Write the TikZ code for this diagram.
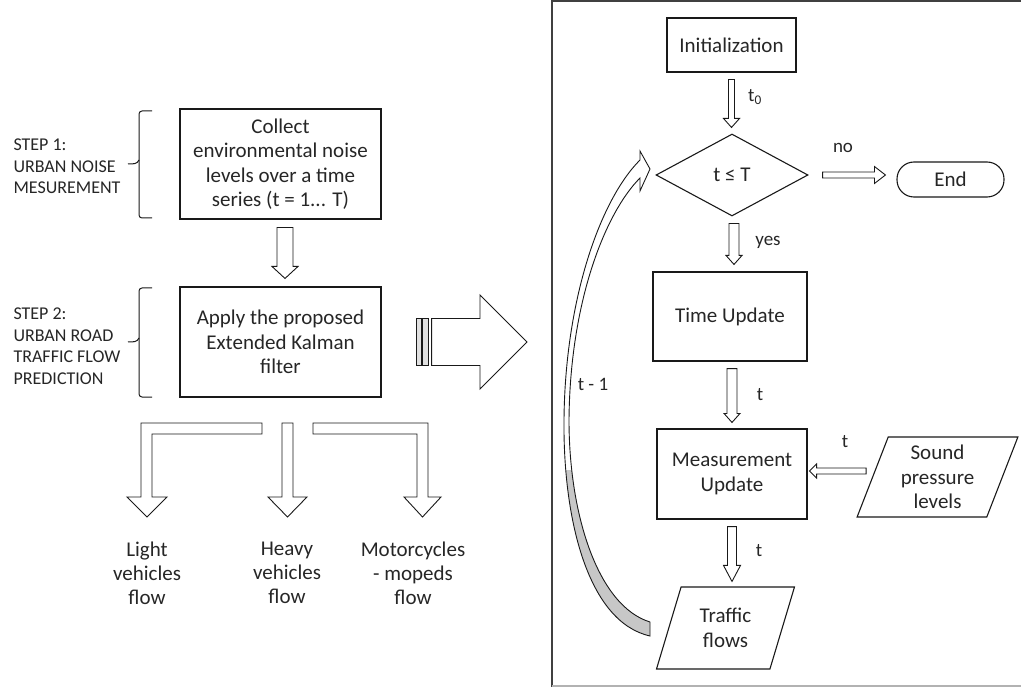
\documentclass[tikz,border=0pt]{standalone}
\usepackage{fontspec}
\setmainfont{Carlito}
\usetikzlibrary{shapes.geometric,calc}

% block arrows between two points (tail, tip, shaft half-width, head half-width, head length)
\newcommand\blkdown[5]{\draw[blk] let \p1=(#1), \p2=(#2) in
  (\x1-#3,\y1) -- (\x1+#3,\y1) -- (\x1+#3,\y2+#5) -- (\x1+#4,\y2+#5) -- (\x1,\y2)
  -- (\x1-#4,\y2+#5) -- (\x1-#3,\y2+#5) -- cycle;}
\newcommand\blkright[5]{\draw[blk] let \p1=(#1), \p2=(#2) in
  (\x1,\y1+#3) -- (\x2-#5,\y1+#3) -- (\x2-#5,\y1+#4) -- (\x2,\y1) -- (\x2-#5,\y1-#4)
  -- (\x2-#5,\y1-#3) -- (\x1,\y1-#3) -- cycle;}
\newcommand\blkleft[5]{\draw[blk] let \p1=(#1), \p2=(#2) in
  (\x1,\y1+#3) -- (\x2+#5,\y1+#3) -- (\x2+#5,\y1+#4) -- (\x2,\y1) -- (\x2+#5,\y1-#4)
  -- (\x2+#5,\y1-#3) -- (\x1,\y1-#3) -- cycle;}

\begin{document}
\begin{tikzpicture}[x=1pt,y=-1pt,
  every node/.style={text=black!85},
  txt/.style={font=\fontsize{21}{24.5}\selectfont},
  box/.style={draw=black!90, line width=1.1pt, inner sep=0pt, align=center, txt},
  para/.style={box, trapezium, trapezium left angle=70, trapezium right angle=110,
    trapezium stretches=true},
  steplbl/.style={anchor=west, align=left, font=\fontsize{18}{21.5}\selectfont},
  outlbl/.style={align=center, font=\fontsize{21}{24}\selectfont},
  lbl/.style={font=\fontsize{19}{22}\selectfont},
  blk/.style={draw=black!90, line width=0.9pt, fill=white, line join=miter},
  brace/.style={draw=black!90, line width=1pt, rounded corners=3pt},
]
\useasboundingbox (0,0) rectangle (1021,687);

% ---------- left part: the two steps ----------
\node[box, minimum width=201, minimum height=110] (collect) at (280.5,164)
  {Collect\\environmental noise\\levels over a time\\series (t = 1... T)};
\node[box, minimum width=201, minimum height=110] (apply) at (280.5,342)
  {Apply the proposed\\Extended Kalman\\filter};

\node[steplbl] (step1) at (10,166.5) {STEP 1:\\URBAN NOISE\\MESUREMENT};
\node[steplbl] (step2) at (10,346) {STEP 2:\\URBAN ROAD\\TRAFFIC FLOW\\PREDICTION};

% brackets
\draw[brace] (152,111) -- (139,111) -- (139,218) -- (152,218);
\draw[draw=black!90, line width=1pt] (139,160) .. controls (137,164) and (134,164) .. (128,164);
\draw[brace] (152,288) -- (139,288) -- (139,397) -- (152,397);
\draw[draw=black!90, line width=1pt] (139,338) .. controls (137,342) and (134,342) .. (128,342);

\blkdown{[xshift=4.5pt,yshift=-8pt]collect.south}{[yshift=8pt]apply.north}{8pt}{13pt}{12pt}

% three output flows
\node[outlbl] (light) at (147,573) {Light\\vehicles\\flow};
\node[outlbl] (heavy) at (287,573) {Heavy\\vehicles\\flow};
\node[outlbl] (moto) at (413,573) {Motorcycles\\- mopeds\\flow};

\draw[blk] (262,423) -- (141,423) -- (141,497) -- (127,497) -- (147,517) -- (167,497)
  -- (152,497) -- (152,434) -- (262,434) -- cycle;
\draw[blk] (282,423) -- (293,423) -- (293,497) -- (307,497) -- (287.5,517) -- (268,497)
  -- (282,497) -- cycle;
\draw[blk] (313,423) -- (428,423) -- (428,497) -- (441,497) -- (422.5,517) -- (404,497)
  -- (417,497) -- (417,434) -- (313,434) -- cycle;

% ---------- right part: the filter loop ----------
\draw[black!75, line width=2pt] (552,687) -- (552,1) -- (1021,1);
\draw[black!30, line width=1.5pt] (552,686) -- (1021,686);
\coordinate (frameW) at (552,343);

% striped arrow into the loop
\blkright{[xshift=50pt]apply.east}{[xshift=-25pt]frameW}{23.5pt}{47pt}{47pt}
\draw[blk, fill=black!12] let \p1=([xshift=50pt]apply.east) in
  (\x1-15pt,\y1-23.5pt) rectangle (\x1-10pt,\y1+23.5pt)
  (\x1-9pt,\y1-23.5pt) rectangle (\x1-3pt,\y1+23.5pt);

\node[box, minimum width=129, minimum height=54] (init) at (731.5,45) {Initialization};
\node[box, diamond, minimum width=152, minimum height=82] (dec) at (732,175) {t ≤ T};
\node[box, rounded corners=17pt, minimum width=107, minimum height=35] (end) at (950.5,179.5) {End};
\node[box, minimum width=154, minimum height=89] (time) at (730,316.5) {Time Update};
\node[box, minimum width=150, minimum height=90] (meas) at (732,474) {Measurement\\Update};
\node[para, minimum width=139, minimum height=82] (flows) at (725.5,628) {Traffic\\flows};
\node[para, minimum width=161, minimum height=80] (sound) at (937.5,477) {Sound\\pressure\\levels};

\blkdown{[yshift=-7pt]init.south}{[yshift=6pt]dec.north}{3pt}{8pt}{9pt}
\blkdown{[xshift=2pt,yshift=-7pt]dec.south}{[yshift=7pt]time.north}{5pt}{8pt}{9pt}
\blkdown{[xshift=2pt,yshift=-7pt]time.south}{[yshift=6pt]meas.north}{5pt}{8pt}{9pt}
\blkdown{[yshift=-7pt]meas.south}{[yshift=5pt]flows.north}{4.5pt}{8.5pt}{16pt}
\blkright{[xshift=14pt]dec.east}{[xshift=-11pt]end.west}{3pt}{8.5pt}{11pt}
\blkleft{[shift={(-6pt,6pt)}]sound.west}{[xshift=2pt]meas.east}{3pt}{7pt}{7pt}

\node[lbl] (lt0) at (755,97) {t\textsubscript{0}};
\node[lbl] (lno) at (843,148) {no};
\node[lbl] (lyes) at (768,242) {yes};
\node[lbl] (lt1) at (760,395) {t};
\node[lbl] (lt2) at (759,551) {t};
\node[lbl] (lt3) at (845,442) {t};
\node[lbl] (ltm) at (593,384) {t - 1};

% curved feedback arrow from the traffic flows back to the test
\def\loopband{(650,636) .. controls (588,622) and (563,520) .. (564,420)
  .. controls (565,300) and (600,200) .. (640,160)
  -- (640,151) -- (650,169) -- (640,191) -- (640,178)
  .. controls (606,212) and (570,300) .. (569,420)
  .. controls (569,515) and (598,606) .. (650,622) -- cycle}
\fill[white] \loopband;
\begin{scope}
  \clip (540,470) rectangle (660,660);
  \fill[black!22] \loopband;
\end{scope}
\draw[draw=black!90, line width=0.9pt, line join=miter] \loopband;
\end{tikzpicture}
\end{document}
